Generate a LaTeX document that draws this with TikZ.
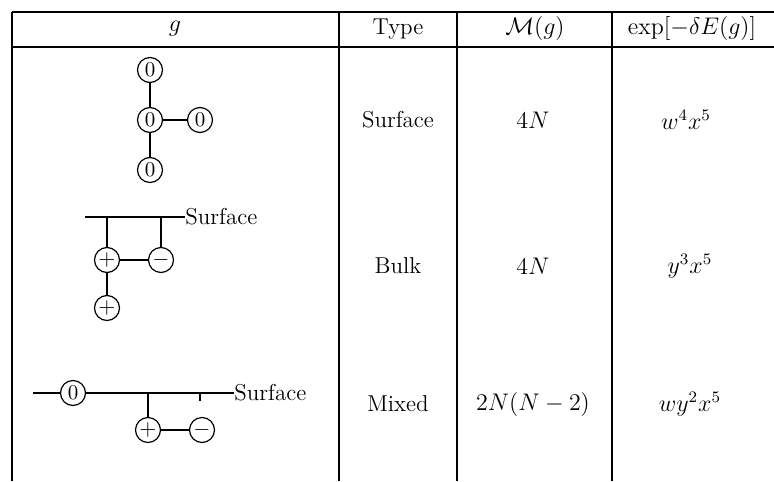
\documentclass[tikz,border=0pt]{standalone}
\usepackage{amsmath}
\begin{document}
\begin{tikzpicture}[x=0.5pt,y=-0.5pt,
  rule/.style={line width=0.7pt},
  link/.style={line width=0.6pt},
  site/.style={circle,draw,line width=0.6pt,inner sep=0pt,minimum size=12.5pt,font=\fontsize{10.5}{12}\selectfont},
  cell/.style={font=\fontsize{11.5}{14}\selectfont}]
\useasboundingbox (0,0) rectangle (774,481);
% table rules
\coordinate (tl) at (12,12); \coordinate (tr) at (774,12);
\coordinate (hl) at (12,47); \coordinate (hr) at (774,47);
\coordinate (bl) at (12,481);
\draw[rule] (tl) -- (tr);
\draw[rule] (hl) -- (hr);
\draw[rule] (tl) -- (bl);
\foreach \x/\n in {339/a,457/b,612/c}{
  \coordinate (\n1) at (\x,12); \coordinate (\n2) at (\x,481);
  \draw[rule] (\n1) -- (\n2);
}
% headers
\node[cell] (h1) at (175,29) {$g$};
\node[cell] (h2) at (398,29) {Type};
\node[cell] (h3) at (535,29) {$\mathcal{M}(g)$};
\node[cell] (h4) at (692,29) {$\exp[-\delta E(g)]$};
% row 1
\node[site] (r1t) at (150,70) {0};
\node[site] (r1c) at (150,120) {0};
\node[site] (r1r) at (200,120) {0};
\node[site] (r1b) at (150,170) {0};
\draw[link] (r1t) -- (r1c);
\draw[link] (r1c) -- (r1r);
\draw[link] (r1c) -- (r1b);
\node[cell] (t1) at (398,120) {Surface};
\node[cell] (m1) at (533,120) {$4N$};
\node[cell] (e1) at (686,120) {$w^4x^5$};
% row 2
\coordinate (s2a) at (85,217);
\coordinate (s2p) at (107,217);
\coordinate (s2m) at (161,217);
\coordinate (s2e) at (185,217);
\node[cell,anchor=west,inner sep=0pt] (s2) at (s2e) {Surface};
\draw[link] (s2a) -- (s2e);
\draw[line width=1pt] (s2a) -- (s2p);
\node[site] (r2p) at (107,260) {$+$};
\node[site] (r2m) at (161,260) {$-$};
\node[site] (r2b) at (107,308) {$+$};
\draw[link] (s2p) -- (r2p);
\draw[link] (s2m) -- (r2m);
\draw[link] (r2p) -- (r2m);
\draw[link] (r2p) -- (r2b);
\node[cell] (t2) at (398,266) {Bulk};
\node[cell] (m2) at (533,266) {$4N$};
\node[cell] (e2) at (690,266) {$y^3x^5$};
% row 3
\coordinate (s3a) at (33,393);
\coordinate (s3e) at (234,393);
\node[site] (r3z) at (73,393) {0};
\node[cell,anchor=west,inner sep=0pt] (s3) at (s3e) {Surface};
\draw[link] (s3a) -- (r3z);
\draw[link] (r3z) -- (s3e);
\coordinate (s3p) at (148,393);
\coordinate (s3m) at (200,393);
\coordinate (s3t) at (200,401);
\node[site] (r3p) at (148,430) {$+$};
\node[site] (r3m) at (202,430) {$-$};
\draw[link] (s3p) -- (r3p);
\draw[link] (s3m) -- (s3t);
\draw[link] (r3p) -- (r3m);
\node[cell] (t3) at (398,404) {Mixed};
\node[cell] (m3) at (533,404) {$2N(N-2)$};
\node[cell] (e3) at (690,404) {$wy^2x^5$};
\end{tikzpicture}
\end{document}
